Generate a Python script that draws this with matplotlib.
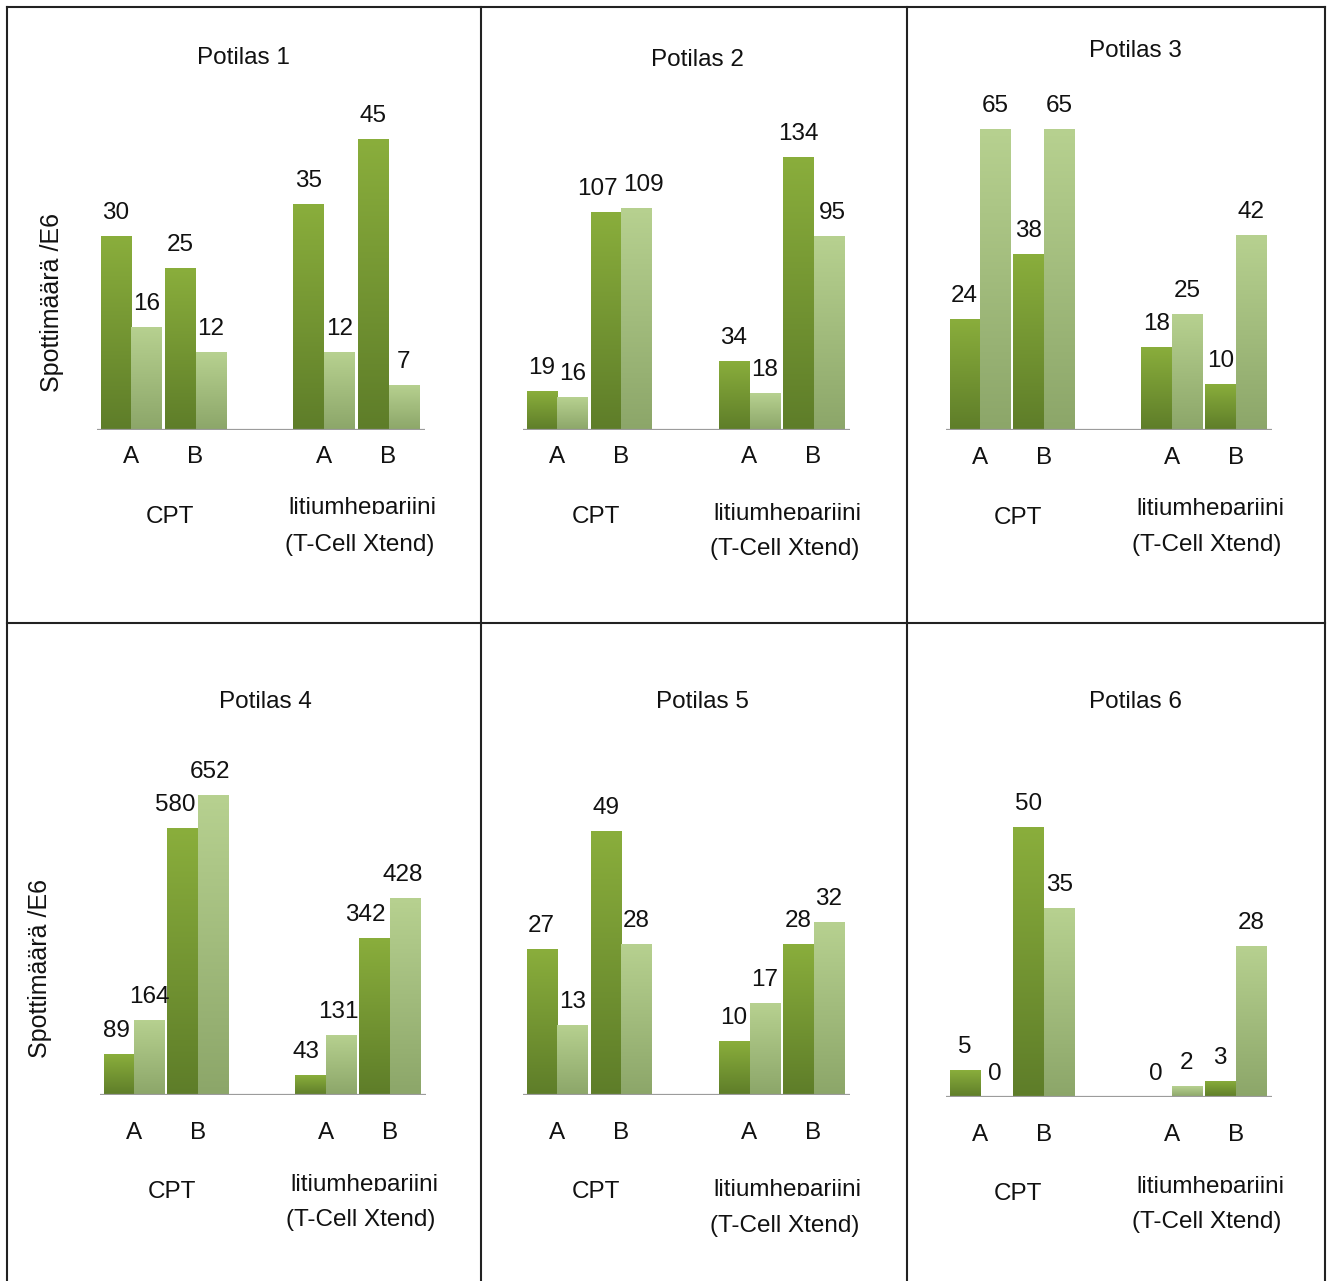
import numpy as np
import matplotlib
matplotlib.use("Agg")
import matplotlib.pyplot as plt
from matplotlib.transforms import blended_transform_factory, Bbox
from matplotlib.lines import Line2D

plt.rcParams['font.family'] = ['Liberation Sans', 'DejaVu Sans']

W, H = 1327, 1281

titles = ["Potilas 1", "Potilas 2", "Potilas 3", "Potilas 4", "Potilas 5", "Potilas 6"]
categories = ["A", "B", "A", "B"]
groups = ["CPT", "litiumhepariini", "(T-Cell Xtend)"]
ylabel = "Spottimäärä /E6"

# values per panel: [CPT A, CPT B, litiumhepariini A, litiumhepariini B]
dark_vals = [
    [30, 25, 35, 45],
    [19, 107, 34, 134],
    [24, 38, 18, 10],
    [89, 580, 43, 342],
    [27, 49, 10, 28],
    [5, 50, 0, 3],
]
light_vals = [
    [16, 12, 12, 7],
    [16, 109, 18, 95],
    [65, 65, 25, 42],
    [164, 652, 131, 428],
    [13, 28, 17, 32],
    [0, 35, 2, 28],
]
# upper y-limit of each panel
ymaxes = [49.5, 157, 69, 696, 59.3, 59.3]

# panel layout in pixels: (axes left, axes width, baseline y)
panels_px = [
    (97, 328, 430), (523, 327, 430), (946, 326, 430),
    (100, 326, 1095), (523, 327, 1095), (946, 326, 1097),
]
title_px = [(243, 58), (697, 60), (1135, 51), (265, 702), (702, 702), (1135, 702)]
cat_y = [457, 457, 458, 1133, 1133, 1135]
grp_y = [(517, 514, 545), (517, 520, 549), (518, 515, 545),
         (1192, 1191, 1220), (1192, 1196, 1226), (1194, 1193, 1222)]
ylab_px = [(52, 303), (40, 968)]

# horizontal nudges (px) of crowded value labels: (panel, series, index) -> dx
label_nudge = {
    (1, 0, 1): -8, (1, 1, 1): 7, (1, 1, 3): 4,
    (3, 0, 1): -7, (3, 1, 1): -3, (3, 0, 3): -9, (3, 1, 3): -2,
    (3, 0, 0): -2, (3, 0, 2): -4, (3, 1, 2): -3,
}

AX_H = 320
positions = np.array([0, 1, 3, 4])
bw = 0.47
off = 0.24

dark_grad = ("#8aae3c", "#5e7d29")
light_grad = ("#b7d190", "#8ca669")

fig = plt.figure(figsize=(W / 100, H / 100), dpi=100)
fig.patch.set_facecolor("white")
PT = 72 / 100  # points per pixel


def fy(py):
    return 1 - py / H


def gradient_bars(ax, xs, vals, cols):
    bars = ax.bar(xs, vals, width=bw, color="none", edgecolor="none", zorder=2)
    top, bot = matplotlib.colors.to_rgb(cols[0]), matplotlib.colors.to_rgb(cols[1])
    t = np.linspace(0, 1, 256)
    img = np.zeros((256, 1, 3))
    for c in range(3):
        img[:, 0, c] = top[c] + (bot[c] - top[c]) * t
    for b in bars:
        x0, w, h = b.get_x(), b.get_width(), b.get_height()
        if h <= 0:
            continue
        im = ax.imshow(img, extent=(x0, x0 + w, 0, h), aspect="auto",
                       interpolation="bilinear", zorder=2)
        im.set_clip_path(b)
    return bars


FS = 17.5
txt_kw = dict(fontsize=FS, color="#111111")

for i in range(6):
    left, width, base = panels_px[i]
    ax = fig.add_axes([left / W, fy(base), width / W, AX_H / H])
    ax.set_xlim(-0.53, 4.57)
    ax.set_ylim(0, ymaxes[i])
    ax.axis("off")

    gradient_bars(ax, positions - off, dark_vals[i], dark_grad)
    gradient_bars(ax, positions + off, light_vals[i], light_grad)
    ax.axhline(0, color="#9c9c9c", lw=1.6, zorder=3)

    for s, (xs, vals) in enumerate(((positions - off, dark_vals[i]),
                                    (positions + off, light_vals[i]))):
        for k, (x, v) in enumerate(zip(xs, vals)):
            dx = label_nudge.get((i, s, k), 0)
            ax.annotate(str(v), (x, v), xytext=(dx * PT, 12 * PT),
                        textcoords="offset points", ha="center", va="bottom",
                        annotation_clip=False, **txt_kw)

    tr = blended_transform_factory(ax.transData, fig.transFigure)
    for x, c in zip(positions, categories):
        ax.text(x, fy(cat_y[i]), c, ha="center", va="center", transform=tr, **txt_kw)
    gy = grp_y[i]
    ax.text(0.6, fy(gy[0]), groups[0], ha="center", va="center", transform=tr, **txt_kw)
    # the first line of the second group label is cut off at its baseline
    t2 = ax.text(3.6, fy(gy[1]), groups[1], ha="center", va="baseline",
                 transform=tr, clip_on=True, **txt_kw)
    t2.set_clip_box(Bbox.from_extents(0, H - gy[1], W, H))
    ax.text(3.55, fy(gy[2]), groups[2], ha="center", va="center", transform=tr, **txt_kw)

    tx, ty = title_px[i]
    fig.text(tx / W, fy(ty), titles[i], ha="center", va="center", **txt_kw)

for (lx, ly) in ylab_px:
    fig.text(lx / W, fy(ly), ylabel, ha="center", va="center", rotation=90,
             fontsize=18, color="#111111")

# table grid
lc = dict(color="#222222", lw=1.5, transform=fig.transFigure)
for x in (7, 481, 907, 1325):
    fig.add_artist(Line2D([x / W, x / W], [fy(7), fy(1281)], **lc))
for y in (7, 623):
    fig.add_artist(Line2D([7 / W, 1325 / W], [fy(y), fy(y)], **lc))

fig.savefig("out.png", dpi=100, facecolor="white")
